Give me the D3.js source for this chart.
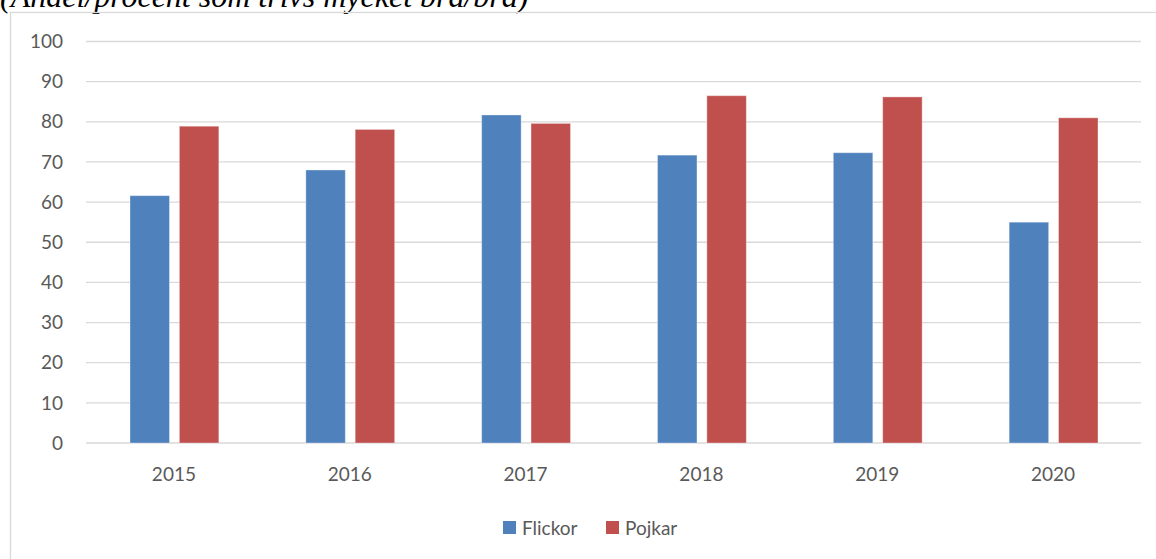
<!DOCTYPE html>
<html>
<head>
<meta charset="utf-8">
<script src="https://cdn.jsdelivr.net/npm/d3@7"></script>
<style>
  html, body { margin: 0; padding: 0; background: #fff; overflow: hidden; }
  text { font-family: Lato, "Open Sans", sans-serif; fill: #595959; }
</style>
</head>
<body>
<div id="chart"></div>
<script>
var years = ['2015', '2016', '2017', '2018', '2019', '2020'];
var flickor = [61.6, 68.0, 81.7, 71.7, 72.3, 55.0];
var pojkar = [78.9, 78.1, 79.6, 86.5, 86.2, 81.0];
var seriesNames = ['Flickor', 'Pojkar'];
var seriesColors = ['#4f81bd', '#c0504d'];
var yTicks = [0, 10, 20, 30, 40, 50, 60, 70, 80, 90, 100];

var width = 1156,
    height = 559;

var svg = d3.select('#chart').append('svg')
    .attr('width', width).attr('height', height);

// caption above the chart box, cut by the top of the page (as in the source)
svg.append('text')
    .attr('x', 0)
    .attr('y', 7)
    .style('font-family', '"Liberation Serif", "DejaVu Serif", serif')
    .style('font-style', 'italic')
    .style('font-size', '32px')
    .style('fill', '#000')
    .text('(Andel/procent som trivs mycket bra/bra)');

// chart area border
svg.append('rect')
    .attr('x', 10.5).attr('y', 12.5)
    .attr('width', 1200).attr('height', 600)
    .attr('fill', 'none')
    .attr('stroke', '#d9d9d9')
    .attr('stroke-width', 1.3);

var x0 = d3.scaleBand().domain(years).range([86, 1141]);
var x1 = d3.scaleBand().domain(seriesNames)
    .range([44, x0.bandwidth() - 43]).paddingInner(0.2);
var y = d3.scaleLinear().domain([0, 100]).range([443, 41.5]);

// gridlines
svg.append('g').selectAll('line').data(yTicks).enter().append('line')
    .attr('x1', 86).attr('x2', 1141)
    .attr('y1', d => y(d)).attr('y2', d => y(d))
    .attr('stroke', '#d9d9d9')
    .attr('stroke-width', 1.3);

// y tick labels
svg.append('g').selectAll('text').data(yTicks).enter().append('text')
    .attr('x', 63)
    .attr('y', d => y(d))
    .attr('dy', '0.35em')
    .attr('text-anchor', 'end')
    .style('font-size', '19px')
    .text(d => d);

// bars
var rows = years.map(function(yr, i) {
  return {year: yr, values: [flickor[i], pojkar[i]]};
});

var groups = svg.append('g').selectAll('g').data(rows).enter().append('g')
    .attr('transform', d => 'translate(' + x0(d.year) + ',0)');

groups.selectAll('rect')
    .data(d => d.values.map((v, k) => ({name: seriesNames[k], value: v, color: seriesColors[k]})))
    .enter().append('rect')
    .attr('x', d => x1(d.name))
    .attr('width', x1.bandwidth())
    .attr('y', d => y(d.value))
    .attr('height', d => y(0) - y(d.value))
    .attr('fill', d => d.color)
    .attr('stroke', 'rgba(255,255,255,0.35)')
    .attr('stroke-width', 1);

// x labels
svg.append('g').selectAll('text').data(years).enter().append('text')
    .attr('x', d => x0(d) + x0.bandwidth() / 2)
    .attr('y', 481)
    .attr('text-anchor', 'middle')
    .style('font-size', '19px')
    .text(d => d);

// legend
var legendX = [503, 606];
var legend = svg.append('g').selectAll('g').data(seriesNames).enter().append('g')
    .attr('transform', (d, i) => 'translate(' + legendX[i] + ',521)');
legend.append('rect')
    .attr('width', 13).attr('height', 13)
    .attr('fill', (d, i) => seriesColors[i]);
legend.append('text')
    .attr('x', 19)
    .attr('y', 14)
    .style('font-size', '19px')
    .text(d => d);
</script>
</body>
</html>
